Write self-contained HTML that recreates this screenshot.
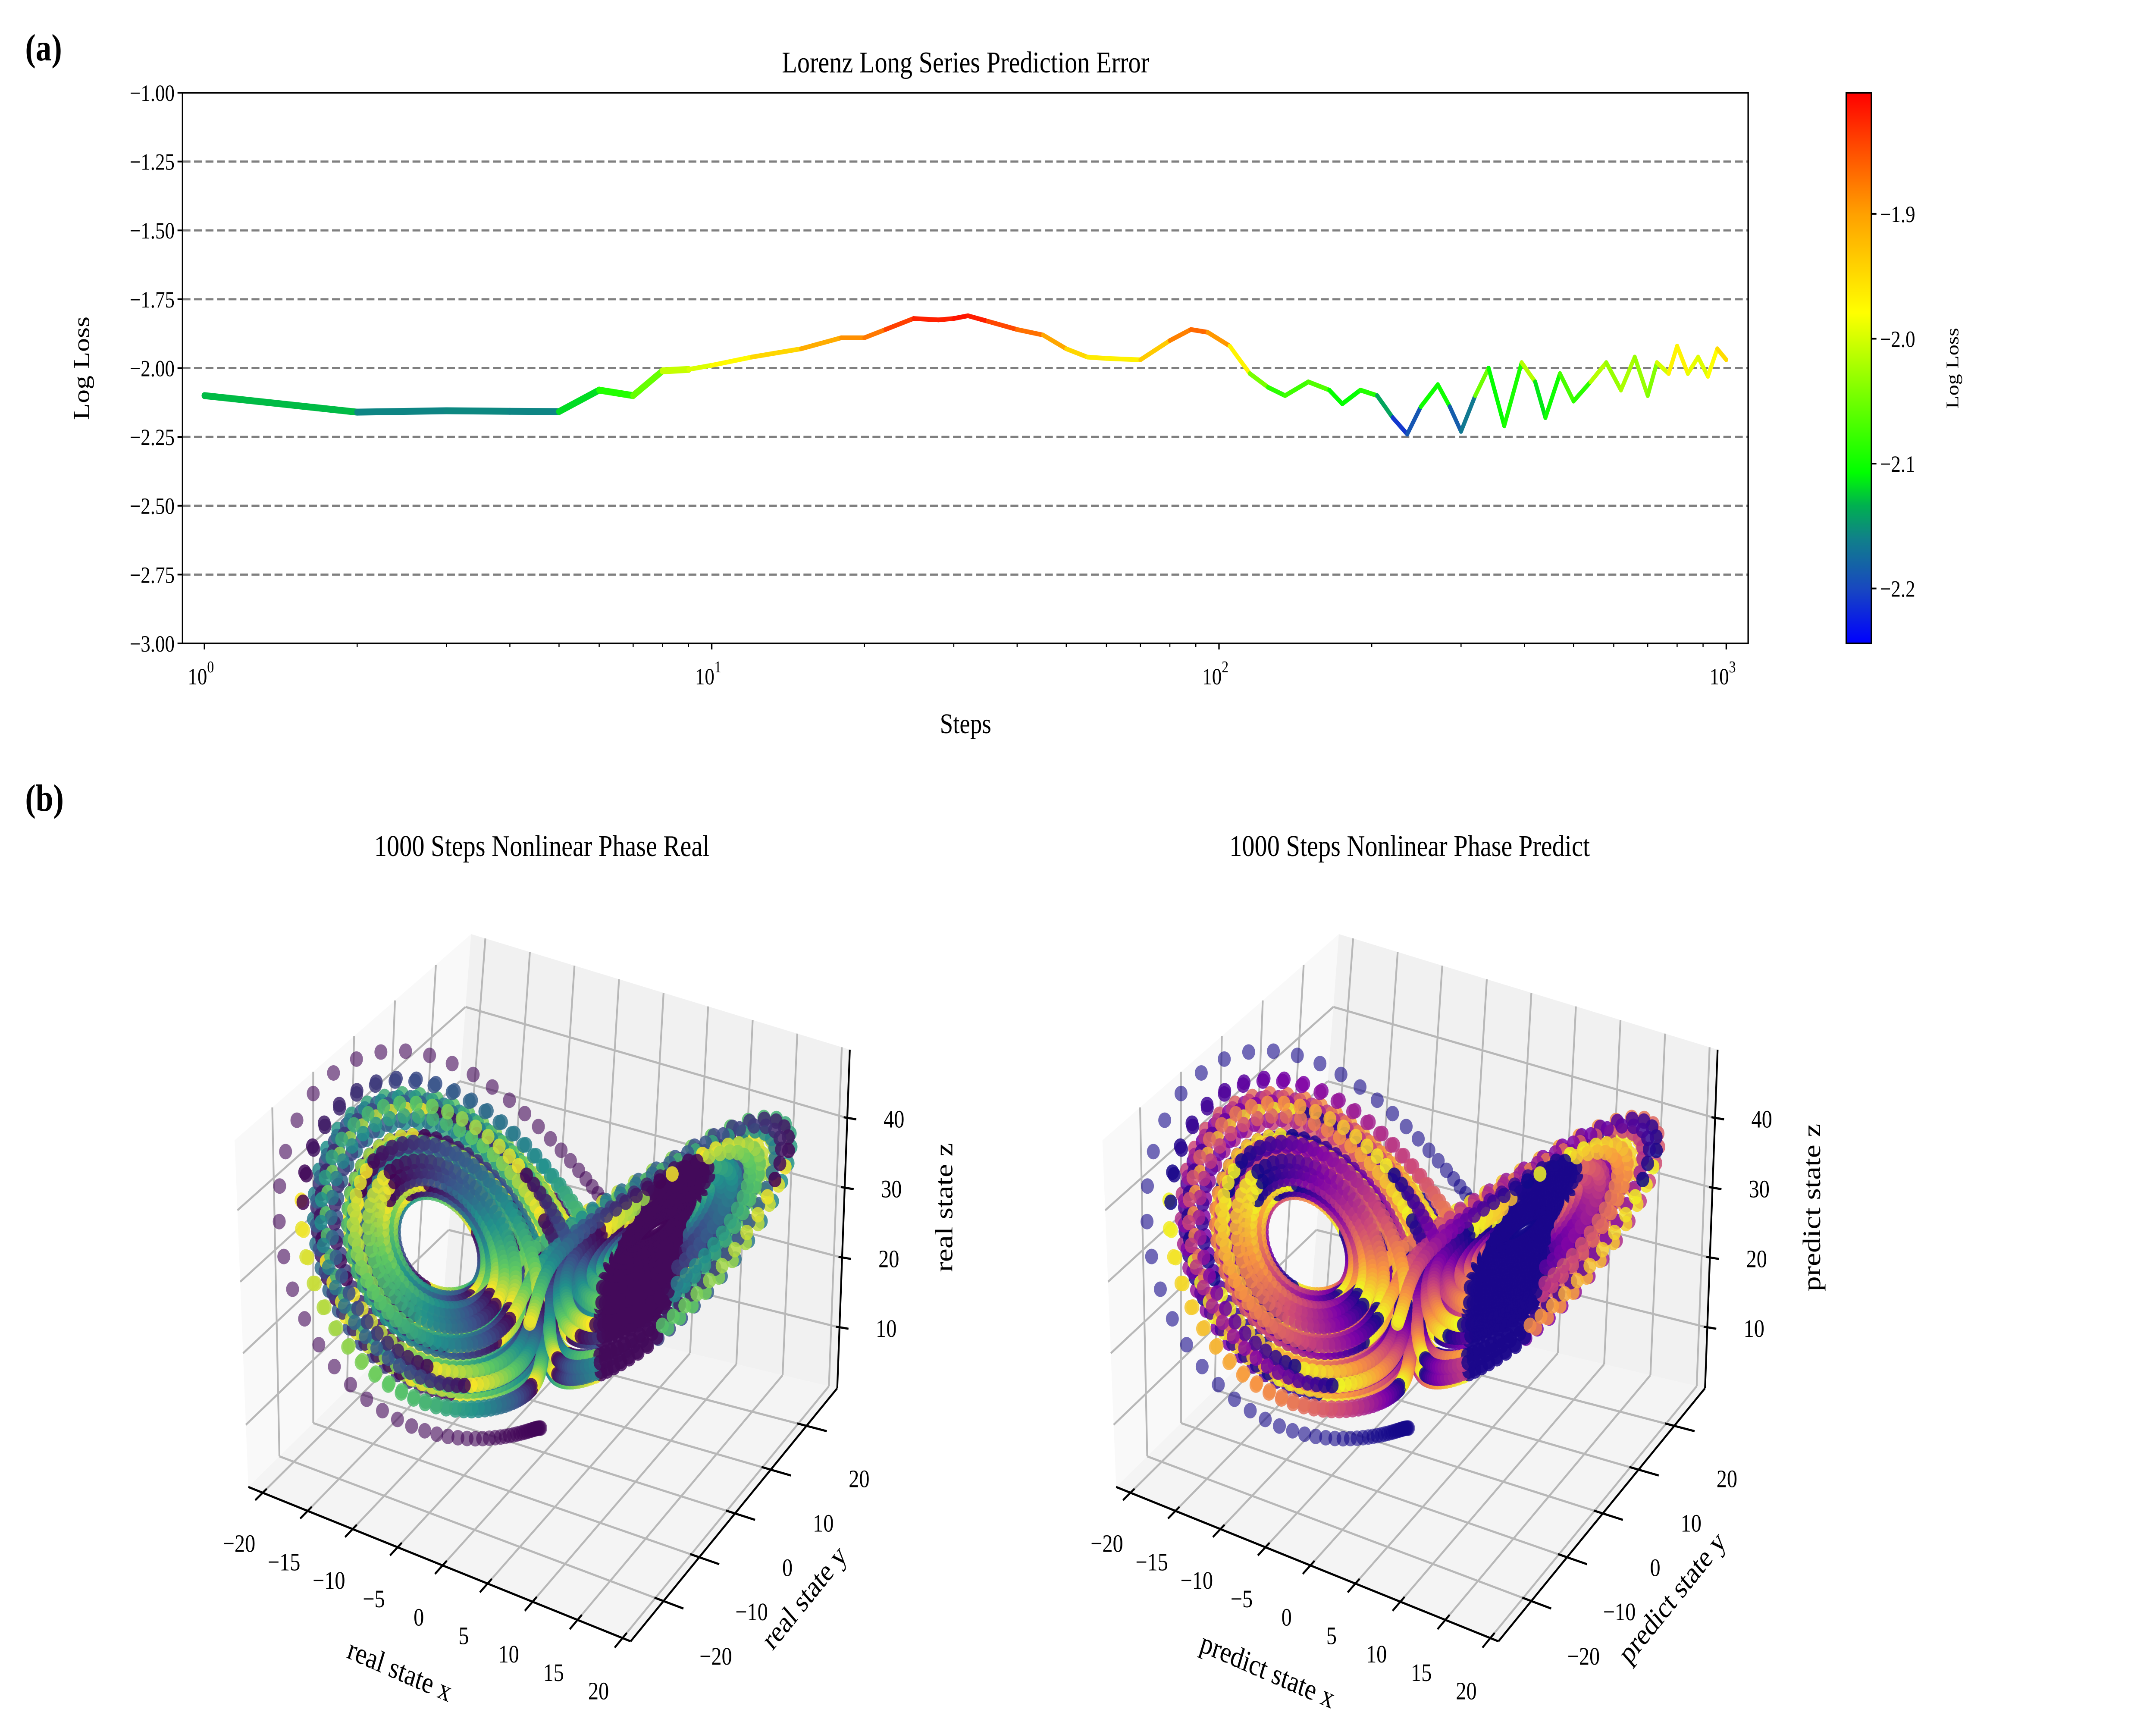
<!DOCTYPE html>
<html><head><meta charset="utf-8"><title>Lorenz Prediction Figure</title>
<style>
html,body{margin:0;padding:0;background:#fff;width:100%;height:100%;overflow:hidden;}
svg{display:block;position:absolute;left:0;top:0;width:100vw;height:100vh;font-family:"Liberation Serif","DejaVu Serif",serif;}
</style></head>
<body>
<svg id="fig" xmlns="http://www.w3.org/2000/svg" viewBox="0 0 6000 4000" preserveAspectRatio="none">
<defs>
<linearGradient id="cbgrad" x1="0" y1="1" x2="0" y2="0">
<stop offset="0" stop-color="#0000ff"/><stop offset="0.1" stop-color="#1848c0"/><stop offset="0.19" stop-color="#10808a"/>
<stop offset="0.25" stop-color="#00b050"/><stop offset="0.31" stop-color="#00ff00"/><stop offset="0.46" stop-color="#80ff00"/>
<stop offset="0.6" stop-color="#ffff00"/><stop offset="0.78" stop-color="#ffa000"/><stop offset="0.915" stop-color="#ff4000"/><stop offset="1" stop-color="#ff0000"/>
</linearGradient>
</defs>
<rect width="6000" height="4000" fill="#fff"/>
<text x="70" y="140" font-size="88" font-weight="bold">(a)</text>
<text x="70" y="1880" font-size="88" font-weight="bold">(b)</text>
<text x="2687" y="168" font-size="70" text-anchor="middle">Lorenz Long Series Prediction Error</text>
<g id="topchart"></g>
<g id="cb"></g>
<text x="1508" y="1985" font-size="70" text-anchor="middle">1000 Steps Nonlinear Phase Real</text>
<text x="3923" y="1985" font-size="70" text-anchor="middle">1000 Steps Nonlinear Phase Predict</text>
<g id="p3dL"></g>
<g id="p3dR"></g>
</svg>
<script>
// ---- top chart data ----
const steps=[1,2,3,4,5,6,7,8,9,10,12,15,18,20,22,25,28,30,32,35,40,45,50,55,60,70,80,88,95,105,115,125,135,150,165,175,190,205,220,235,250,270,285,300,320,340,365,395,420,440,470,500,540,580,620,660,700,730,770,800,840,880,920,960,1000];
const loss=[-2.10,-2.16,-2.155,-2.157,-2.158,-2.08,-2.10,-2.01,-2.005,-1.99,-1.96,-1.93,-1.89,-1.89,-1.86,-1.82,-1.825,-1.82,-1.81,-1.83,-1.86,-1.88,-1.93,-1.96,-1.965,-1.97,-1.90,-1.86,-1.87,-1.92,-2.02,-2.07,-2.10,-2.05,-2.08,-2.13,-2.08,-2.10,-2.18,-2.24,-2.14,-2.06,-2.14,-2.23,-2.10,-2.00,-2.21,-1.98,-2.05,-2.18,-2.02,-2.12,-2.05,-1.98,-2.08,-1.96,-2.10,-1.98,-2.02,-1.92,-2.02,-1.96,-2.03,-1.93,-1.97];
const yTicks=[-1.00,-1.25,-1.50,-1.75,-2.00,-2.25,-2.50,-2.75,-3.00];
const xDecades=[0,1,2,3];
const cbTicks=[-1.9,-2.0,-2.1,-2.2];
const cbMin=-2.244, cbMax=-1.803;
// ---- 3D data (Lorenz system generating the plotted trajectory) ----
const lorenzParams=[10,28,8/3];
const lorenzInit=[0,-1,1.05];
const x3Ticks=[-20,-15,-10,-5,0,5,10,15,20];
const y3Ticks=[-20,-10,0,10,20];
const z3Ticks=[10,20,30,40];

const NS="http://www.w3.org/2000/svg";
function el(tag,attrs,parent){const e=document.createElementNS(NS,tag);for(const k in attrs)e.setAttribute(k,attrs[k]);parent.appendChild(e);return e;}
const minus=s=>String(s).replace('-','\u2212');

// ---- top chart ----
const L=508,R=4865,T=215,B=1492;
const xs=s=>569+Math.log10(s)*1411.7;
const ys=v=>215+(-1-v)*638.5;
const tg=document.getElementById('topchart');
yTicks.forEach(v=>{
  if(v!==-1&&v!==-3){const g=el('line',{x1:L,x2:R,y1:ys(v),y2:ys(v),stroke:'#808080','stroke-width':5,'stroke-dasharray':'22,10'},tg);
  
  }
  const tk=el('line',{x1:L-14,x2:L,y1:ys(v),y2:ys(v),stroke:'#000','stroke-width':4},tg);
  
  
  const t=el('text',{x:L-22,y:ys(v)+19,'font-size':54,'text-anchor':'end'},tg);t.textContent=minus(v.toFixed(2));
  
  
});
xDecades.forEach(d=>{
  const x=xs(Math.pow(10,d));
  const tk=el('line',{x1:x,x2:x,y1:B,y2:B+14,stroke:'#000','stroke-width':4},tg);
  
  
  const t=el('text',{x:x-10,y:B+95,'font-size':54,'text-anchor':'middle'},tg);
  
  
  t.textContent='10';
  const sup=el('tspan',{dy:-28,'font-size':38},t);sup.textContent=String(d);
  if(d<3)for(let k=2;k<=9;k++){const xm=xs(k*Math.pow(10,d));const m=el('line',{x1:xm,x2:xm,y1:B,y2:B+8,stroke:'#000','stroke-width':3},tg);
    
    }
});
function cmapTop(v){
  const st=[[0,[0,0,255]],[0.1,[24,72,192]],[0.19,[16,128,138]],[0.25,[0,176,80]],[0.31,[0,255,0]],[0.46,[128,255,0]],[0.6,[255,255,0]],[0.78,[255,160,0]],[0.915,[255,64,0]],[1,[255,0,0]]];
  let t=(v-cbMin)/(cbMax-cbMin);t=Math.max(0,Math.min(1,t));
  for(let i=1;i<st.length;i++){if(t<=st[i][0]){const a=st[i-1],b=st[i];const f=(t-a[0])/(b[0]-a[0]);return 'rgb('+a[1].map((c,j)=>Math.round(c+(b[1][j]-c)*f)).join(',')+')';}}
  return 'rgb(255,0,0)';
}
for(let i=1;i<steps.length;i++){
  const s=el('line',{x1:xs(steps[i-1]),y1:ys(loss[i-1]),x2:xs(steps[i]),y2:ys(loss[i]),stroke:cmapTop((loss[i-1]+loss[i])/2),'stroke-width':steps[i]<10?16:11,'stroke-linecap':'round'},tg);
  
  
}
const frame=el('rect',{x:L,y:T,width:R-L,height:B-T,fill:'none',stroke:'#000','stroke-width':4},tg);


const yl=el('text',{x:0,y:0,'font-size':64,'text-anchor':'middle',transform:'translate(248,854) rotate(-90)'},tg);yl.textContent='Log Loss';


const xl=el('text',{x:2687,y:1700,'font-size':66,'text-anchor':'middle'},tg);xl.textContent='Steps';


// colorbar
const cb=document.getElementById('cb');
const cbY=v=>215+(cbMax-v)/(cbMax-cbMin)*(1492-215);
const cbr=el('rect',{x:5138,y:215,width:70,height:1277,fill:'url(#cbgrad)',stroke:'#000','stroke-width':4},cb);


cbTicks.forEach(v=>{
  const tk=el('line',{x1:5208,x2:5222,y1:cbY(v),y2:cbY(v),stroke:'#000','stroke-width':4},cb);
  
  
  const t=el('text',{x:5232,y:cbY(v)+19,'font-size':54},cb);t.textContent=minus(v.toFixed(1));
  
  
});
const cbl=el('text',{x:0,y:0,'font-size':50,'text-anchor':'middle',transform:'translate(5450,854) rotate(-90)'},cb);cbl.textContent='Log Loss';



// ---- Lorenz trajectory ----
const traj=[];
(function(){
  let [x,y,z]=lorenzInit;const [s,r,b]=lorenzParams;const h=0.005;
  const f=(x,y,z)=>[s*(y-x),x*(r-z)-y,x*y-b*z];
  for(let i=0;i<8000;i++){
    traj.push([x,y,z]);
    for(let k=0;k<2;k++){
      const k1=f(x,y,z),k2=f(x+h/2*k1[0],y+h/2*k1[1],z+h/2*k1[2]),k3=f(x+h/2*k2[0],y+h/2*k2[1],z+h/2*k2[2]),k4=f(x+h*k3[0],y+h*k3[1],z+h*k3[2]);
      x+=h/6*(k1[0]+2*k2[0]+2*k3[0]+k4[0]);y+=h/6*(k1[1]+2*k2[1]+2*k3[1]+k4[1]);z+=h/6*(k1[2]+2*k2[2]+2*k3[2]+k4[2]);
    }
  }
})();
const XMIN=-21.6,XMAX=20.9,YMIN=-29.2,YMAX=28.6,ZMIN=1.3,ZMAX=49.8;
const FL={l:[691,3448],f:[1755,3806],r:[2330,3219],b:[1235,3002]};
const TP={l:[653,2644],f:[1720,3000],r:[2365,2434],b:[1311,2166]};
function P(x,y,z,ox){
  const u=(x-XMIN)/(XMAX-XMIN),v=(y-YMIN)/(YMAX-YMIN),t=(z-ZMIN)/(ZMAX-ZMIN);
  const w=[(1-u)*(1-v),u*(1-v),u*v,(1-u)*v];const ks=['l','f','r','b'];
  let fx=0,fy=0,tx=0,ty=0;ks.forEach((k,i)=>{fx+=w[i]*FL[k][0];fy+=w[i]*FL[k][1];tx+=w[i]*TP[k][0];ty+=w[i]*TP[k][1];});
  return [fx+(tx-fx)*t+ox,fy+(ty-fy)*t];
}
const viridis=[[68,1,84],[59,82,139],[33,145,140],[94,201,98],[253,231,37]];
const plasma=[[13,8,135],[126,3,168],[204,71,120],[248,149,64],[240,249,33]];
function pal(p,t){t=Math.max(0,Math.min(0.9999,t))*(p.length-1);const i=Math.floor(t),f=t-i;return 'rgb('+p[i].map((c,j)=>Math.round(c+(p[i+1][j]-c)*f)).join(',')+')';}
function pts(a){return a.map(p=>p[0].toFixed(1)+','+p[1].toFixed(1)).join(' ');}

function draw3D(gid,ox,p,pre){
  const g=document.getElementById(gid);
  const paneL=el('polygon',{points:pts([P(XMIN,YMIN,ZMIN,ox),P(XMIN,YMAX,ZMIN,ox),P(XMIN,YMAX,ZMAX,ox),P(XMIN,YMIN,ZMAX,ox)]),fill:'#f9f9f9'},g);
  
  
  const paneR=el('polygon',{points:pts([P(XMIN,YMAX,ZMIN,ox),P(XMAX,YMAX,ZMIN,ox),P(XMAX,YMAX,ZMAX,ox),P(XMIN,YMAX,ZMAX,ox)]),fill:'#f1f1f1'},g);
  
  
  const floor=el('polygon',{points:pts([P(XMIN,YMIN,ZMIN,ox),P(XMAX,YMIN,ZMIN,ox),P(XMAX,YMAX,ZMIN,ox),P(XMIN,YMAX,ZMIN,ox)]),fill:'#f4f4f4'},g);
  
  
  const gl=(a,b)=>{const l=el('line',{x1:a[0],y1:a[1],x2:b[0],y2:b[1],stroke:'#b8b8b8','stroke-width':5},g);
    
    };
  x3Ticks.forEach(x=>{gl(P(x,YMIN,ZMIN,ox),P(x,YMAX,ZMIN,ox));gl(P(x,YMAX,ZMIN,ox),P(x,YMAX,ZMAX,ox));});
  y3Ticks.forEach(y=>{gl(P(XMIN,y,ZMIN,ox),P(XMAX,y,ZMIN,ox));gl(P(XMIN,y,ZMIN,ox),P(XMIN,y,ZMAX,ox));});
  z3Ticks.forEach(z=>{gl(P(XMIN,YMIN,z,ox),P(XMIN,YMAX,z,ox));gl(P(XMIN,YMAX,z,ox),P(XMAX,YMAX,z,ox));});
  traj.forEach((q,i)=>{
    const s=P(q[0],q[1],q[2],ox);let t,op=0.85;
    if(i<300){t=0.02;op=0.6;}
    else{t=((i*0.029)%1);const d=Math.hypot(q[0]-8.5,q[1]-8.5);if(q[0]>0&&d<5.5)t=0.03;}
    const c=el('circle',{cx:s[0].toFixed(1),cy:(s[1]-70).toFixed(1),r:18,fill:pal(p,t),'fill-opacity':op},g);
    
    
  });
  const ax=(a,b,n)=>{const l=el('line',{x1:a[0],y1:a[1],x2:b[0],y2:b[1],stroke:'#000','stroke-width':5},g);
    
    };
  ax(P(XMIN,YMIN,ZMIN,ox),P(XMAX,YMIN,ZMIN,ox),'x-axis-line');
  ax(P(XMAX,YMIN,ZMIN,ox),P(XMAX,YMAX,ZMIN,ox),'y-axis-line');
  ax(P(XMAX,YMAX,ZMIN,ox),P(XMAX,YMAX,ZMAX,ox),'z-axis-line');
  const lab=(x,y,txt,n)=>{const t=el('text',{x:x,y:y,'font-size':58,'text-anchor':'middle'},g);t.textContent=txt;
    
    };
  x3Ticks.forEach(x=>{const a=P(x,YMIN+1.2,ZMIN,ox),b=P(x,YMIN-2.2,ZMIN,ox);ax(a,b,'x-tick');lab(b[0]-45,b[1]+120,minus(x),'x-tick-label');});
  y3Ticks.forEach(y=>{const a=P(XMAX-1,y,ZMIN,ox),b=P(XMAX+2.2,y,ZMIN,ox);ax(a,b,'y-tick');lab(b[0]+90,b[1]+130,minus(y),'y-tick-label');});
  z3Ticks.forEach(z=>{const a=P(XMAX,YMAX,z,ox);ax([a[0]-10,a[1]-2],[a[0]+25,a[1]+3],'z-tick');lab(a[0]+130,a[1]+22,String(z),'z-tick-label');});
  const tl=(x,y,rot,txt,n)=>{const t=el('text',{x:0,y:0,'font-size':70,'text-anchor':'middle',transform:'translate('+x+','+y+') rotate('+rot+')'},g);t.textContent=txt;
    
    };
  tl(1105+ox,3895,20,pre+' state x','x-axis-title');
  tl(2255+ox,3720,-46,pre+' state y','y-axis-title');
  tl(2650+ox,2800,-90,pre+' state z','z-axis-title');
}
draw3D('p3dL',0,viridis,'real');
draw3D('p3dR',2415,plasma,'predict');
</script>
</body></html>
